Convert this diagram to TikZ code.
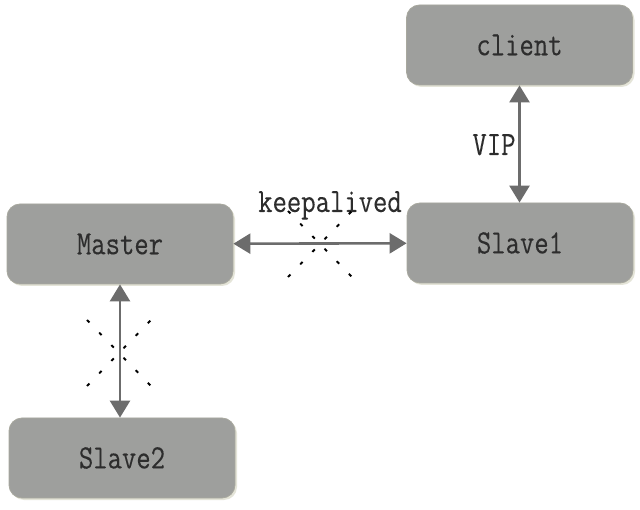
\documentclass[tikz,border=0pt]{standalone}
\usepackage{fontspec}
\usetikzlibrary{arrows.meta,shadows}
\newfontfamily\boxfont[FakeStretch=0.82,FakeBold=0.2]{Latin Modern Mono}
\definecolor{boxgray}{RGB}{158,159,157}
\definecolor{boxline}{RGB}{168,168,158}
\definecolor{boxshadow}{RGB}{226,226,212}
\definecolor{linkgray}{RGB}{108,108,108}
\definecolor{textgray}{RGB}{45,45,45}
\tikzset{x=1pt,y=-1pt,
    server/.style={draw=boxline,fill=boxgray,line width=0.8pt,
        rounded corners=13pt,minimum width=226pt,minimum height=80pt,
        text=textgray,font=\boxfont\fontsize{34}{40}\selectfont,
        drop shadow={shadow xshift=2pt,shadow yshift=-2pt,
            fill=boxshadow,opacity=0.9}},
    link/.style={draw=linkgray,line width=2.6pt,
        {Triangle[length=17pt,width=20pt]}-{Triangle[length=17pt,width=20pt]}},
    linklabel/.style={text=textgray,font=\boxfont\fontsize{34}{40}\selectfont,
        anchor=base,inner sep=0pt},
    cut/.style={draw=black,line width=1.9pt,dash pattern=on 3.5pt off 14pt},
    }
\begin{document}
\begin{tikzpicture}
\useasboundingbox[fill=white] (0,0) rectangle (640,510);
% servers
\node[server] (client) at (519.5,45) {client};
\node[server] (slave1) at (520,243) {Slave1};
\node[server] (master) at (120,244) {Master};
\node[server] (slave2) at (122,458) {Slave2};
% links
\draw[link] (master) -- (slave1);
\draw[link] (client) -- (client |- slave1.north);
\draw[link] (master) -- (master |- slave2.north);
\node[linklabel] (keep) at (330,212) {keepalived};
\node[linklabel] (vip) at (494,155) {VIP};
% broken links
\coordinate (cutA) at (320,244);
\coordinate (cutB) at (119,353);
\foreach \c in {cutA,cutB}{
    \draw[cut,shift={(\c)}] (-32,33) -- (32,-33);
    \draw[cut,shift={(\c)}] (-32,-33) -- (32,33);
}
\end{tikzpicture}
\end{document}
